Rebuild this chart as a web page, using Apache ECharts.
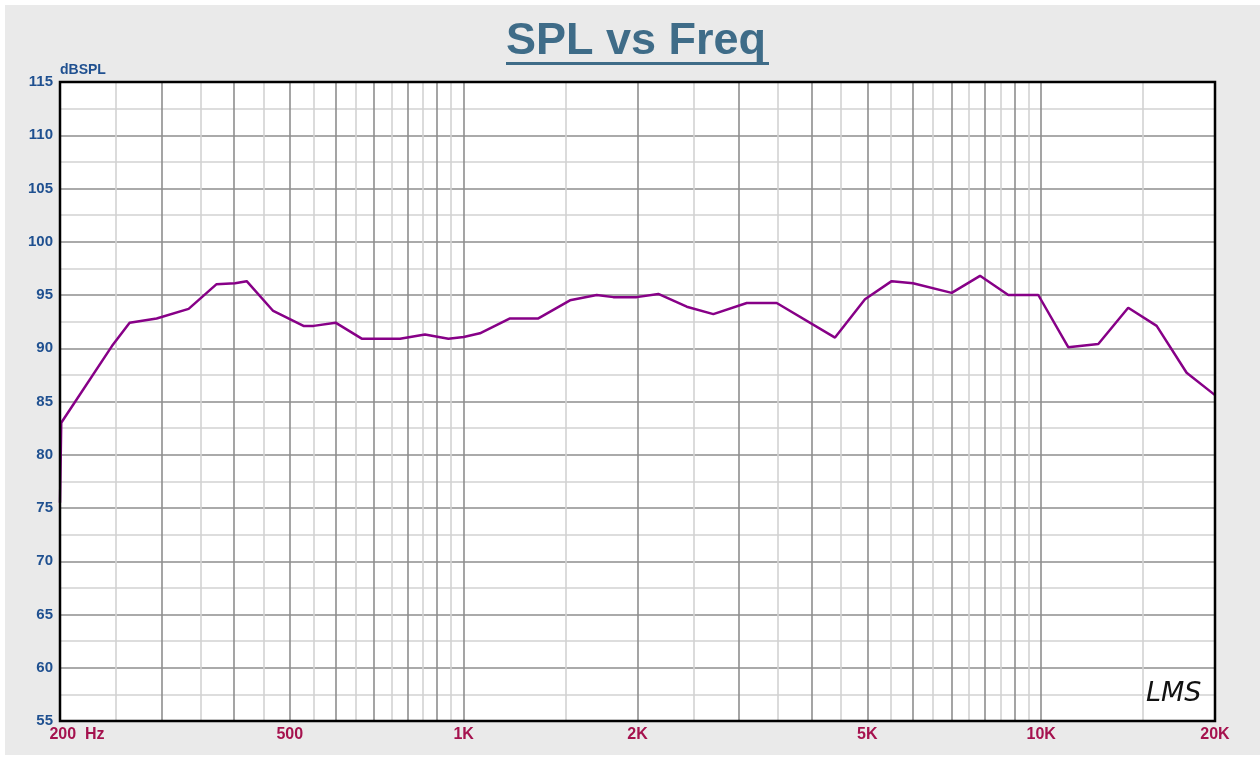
<!DOCTYPE html>
<html>
<head>
<meta charset="utf-8">
<script src="https://cdn.jsdelivr.net/npm/echarts@6/dist/echarts.min.js"></script>
<style>
  html, body { margin: 0; padding: 0; background: #fff; }
  #chart { width: 1260px; height: 760px; }
</style>
</head>
<body>
<div id="chart"></div>
<script>
// 频响数据（Hz / dBSPL）
const freqs = [200, 201, 246, 264, 294, 334, 373, 402, 421, 468, 528, 550, 600, 666, 776, 857, 941, 1000, 1067, 1203,
  1347, 1528, 1700, 1816, 1994, 2173, 2434, 2706, 3092, 3484, 4396, 4954, 5510, 6000, 7000, 7837, 8772, 9886,
  11140, 12560, 14150, 15850, 17860, 20000]
const spl = [75.5, 83.0, 90.2, 92.4, 92.8, 93.7, 96.0, 96.1, 96.3, 93.5, 92.1, 92.1, 92.4, 90.9, 90.9, 91.3, 90.9, 91.05, 91.4, 92.8,
  92.8, 94.5, 95.0, 94.8, 94.8, 95.1, 93.9, 93.2, 94.25, 94.25, 91.0, 94.6, 96.3, 96.1, 95.2, 96.8, 95.0, 95.0,
  90.1, 90.4, 93.8, 92.1, 87.7, 85.6]

// x 轴刻度标签
const xTickFreqs = [200, 500, 1000, 2000, 5000, 10000, 20000]
const xTickLabels = ['200  Hz', '500', '1K', '2K', '5K', '10K', '20K']

const X_MIN = 200, X_MAX = 20000
const FONT = '"Liberation Sans", Arial, sans-serif'
const PLOT = { left: 60, top: 82, right: 1215, bottom: 721 }

// 对数网格线：n*10^k 深色，(n+0.5)*10^k 浅色
const majorLines = [], minorLines = []
;[100, 1000, 10000].forEach(dec => {
  for (let n = 1; n <= 9; n++) {
    const a = n * dec, b = (n + 0.5) * dec
    if (a > X_MIN && a < X_MAX) majorLines.push(a)
    if (b > X_MIN && b < X_MAX) minorLines.push(b)
  }
})

const noLabel = { show: false }
const gridMarks = [
  ...minorLines.map(f => ({ xAxis: f, label: noLabel, lineStyle: { color: '#d2d2d2', width: 1.6, type: 'solid' } })),
  ...majorLines.map(f => ({ xAxis: f, label: noLabel, lineStyle: { color: '#8e8e8e', width: 1.6, type: 'solid' } })),
]
const labelMarks = xTickFreqs.map((f, i) => ({
  xAxis: f,
  lineStyle: { color: 'rgba(0,0,0,0)', width: 0 },
  label: {
    show: true, position: 'start', distance: 6,
    formatter: xTickLabels[i],
    offset: i === 0 ? [17, 0] : [0, 0],
    color: '#a5124e', fontWeight: 'bold', fontSize: 16, fontFamily: FONT,
  },
}))

const chart = echarts.init(document.getElementById('chart'))
chart.setOption({
  animation: false,
  backgroundColor: '#fff',
  graphic: [
    { type: 'rect', z: -10, shape: { x: 5, y: 5, width: 1255, height: 750 }, style: { fill: '#eaeaea' } },
    { type: 'text', left: 506, top: 19, style: { text: 'SPL vs Freq', fill: '#3f6c88', font: `bold 45px ${FONT}` } },
    { type: 'rect', shape: { x: 506, y: 62, width: 263, height: 3 }, style: { fill: '#3f6c88' } },
    // 绘图区黑色边框，画在网格线之上
    { type: 'rect', z: 50, silent: true,
      shape: { x: PLOT.left, y: PLOT.top, width: PLOT.right - PLOT.left, height: PLOT.bottom - PLOT.top },
      style: { fill: 'none', stroke: '#000', lineWidth: 2.5 } },
    { type: 'text', left: 1146, top: 680, z: 100,
      style: { text: 'LMS', fill: '#111', font: `italic 27px "DejaVu Sans", sans-serif` } },
  ],
  grid: {
    left: PLOT.left, right: 1260 - PLOT.right, top: PLOT.top, bottom: 760 - PLOT.bottom,
    show: true, backgroundColor: '#fff', borderWidth: 0,
  },
  xAxis: {
    type: 'log', logBase: 10, min: X_MIN, max: X_MAX,
    axisLine: { show: false }, axisTick: { show: false },
    axisLabel: { show: false }, splitLine: { show: false },
  },
  yAxis: {
    type: 'value', min: 55, max: 115, interval: 5,
    name: 'dBSPL', nameLocation: 'end', nameGap: 5,
    nameTextStyle: { align: 'left', verticalAlign: 'bottom', color: '#1f5090', fontWeight: 'bold', fontSize: 14, fontFamily: FONT },
    axisLine: { show: false }, axisTick: { show: false },
    axisLabel: { color: '#1f5090', fontWeight: 'bold', fontSize: 15, fontFamily: FONT, margin: 7 },
    splitLine: { lineStyle: { color: '#8e8e8e', width: 1.6 } },
    minorTick: { show: false, splitNumber: 2 },
    minorSplitLine: { show: true, lineStyle: { color: '#d2d2d2', width: 1.6 } },
  },
  series: [
    {
      // 网格线和 x 轴标签
      type: 'line', data: [], z: 1, silent: true,
      markLine: { silent: true, symbol: 'none', data: [...gridMarks, ...labelMarks] },
    },
    {
      name: 'SPL', type: 'line', z: 5,
      data: freqs.map((f, i) => [f, spl[i]]),
      showSymbol: false, symbol: 'none',
      lineStyle: { color: '#870087', width: 2.5 },
    },
  ],
})
</script>
</body>
</html>
